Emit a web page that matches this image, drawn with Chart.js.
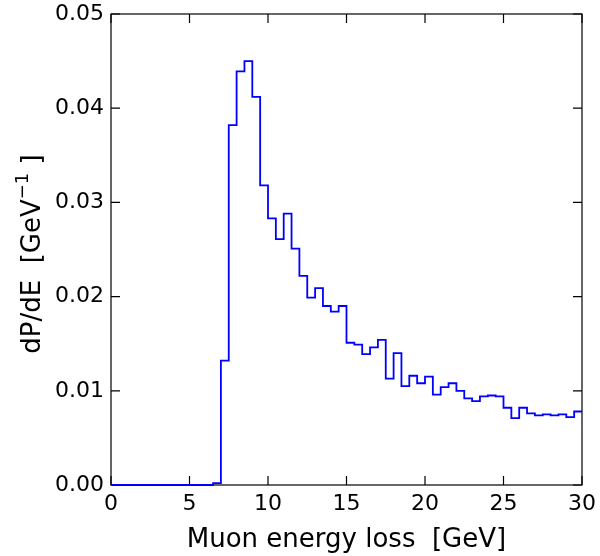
<!DOCTYPE html>
<html><head><meta charset="utf-8">
<script src="https://cdn.jsdelivr.net/npm/chart.js@4/dist/chart.umd.min.js"></script>
<style>html,body{margin:0;padding:0;background:#fff}canvas{display:block}</style>
</head><body>
<canvas id="c" width="600" height="556"></canvas>
<script>
// Lower edges of the histogram bins [GeV]
const binLow = [0,0.5,1,1.5,2,2.5,3,3.5,4,4.5,5,5.5,6,6.5,7,7.5,8,8.5,9,9.5,
  10,10.5,11,11.5,12,12.5,13,13.5,14,14.5,15,15.5,16,16.5,17,17.5,18,18.5,19,19.5,
  20,20.5,21,21.5,22,22.5,23,23.5,24,24.5,25,25.5,26,26.5,27,27.5,28,28.5,29,29.5];
const binUpperEnd = 30;
// dP/dE per bin [GeV^-1]
const density = [0,0,0,0,0,0,0,0,0,0,0,0,0,0.0002,0.0132,0.0382,0.0439,0.0450,0.0412,0.0318,
  0.0283,0.0261,0.0288,0.0251,0.0222,0.0199,0.0209,0.0190,0.0184,0.0190,0.0151,0.0149,0.0139,0.0146,0.0154,0.0113,0.0140,0.0105,0.0116,0.0108,
  0.0115,0.0096,0.0104,0.0108,0.0100,0.0092,0.0089,0.0094,0.0095,0.0094,0.0082,0.0071,0.0082,0.0076,0.0074,0.0075,0.0074,0.0075,0.0072,0.0078];
const xTicks = [0,5,10,15,20,25,30];
const yTicks = [0,0.01,0.02,0.03,0.04,0.05];
const xTitle = 'Muon energy loss  [GeV]';
const yTitleMain = 'dP/dE  [GeV';
const yTitleSup = '\u22121';
const yTitleEnd = ' ]';

const FONT = 'DejaVu Sans';
const points = binLow.map((x, i) => ({x: x, y: density[i]}));
points.push({x: binUpperEnd, y: density[density.length - 1]});

const framePlugin = {
  id: 'frame',
  beforeDatasetsDraw(chart) {
    const {ctx, chartArea: {left, right, top, bottom}, scales: {x, y}} = chart;
    ctx.save();
    ctx.strokeStyle = '#000';
    ctx.lineWidth = 1.2;
    ctx.strokeRect(left, top, right - left, bottom - top);
    const L = 9;
    ctx.beginPath();
    xTicks.forEach(v => {
      const p = x.getPixelForValue(v);
      ctx.moveTo(p, bottom); ctx.lineTo(p, bottom - L);
      ctx.moveTo(p, top); ctx.lineTo(p, top + L);
    });
    yTicks.forEach(v => {
      const p = y.getPixelForValue(v);
      ctx.moveTo(left, p); ctx.lineTo(left + L, p);
      ctx.moveTo(right, p); ctx.lineTo(right - L, p);
    });
    ctx.stroke();
    ctx.restore();
  },
  afterDraw(chart) {
    const {ctx} = chart;
    ctx.save();
    ctx.fillStyle = '#000';
    const big = '26px "' + FONT + '"', small = '18px "' + FONT + '"';
    ctx.font = big; const w1 = ctx.measureText(yTitleMain).width; const w3 = ctx.measureText(yTitleEnd).width;
    ctx.font = small; const w2 = ctx.measureText(yTitleSup).width;
    const total = w1 + w2 + w3;
    ctx.translate(40, 254);
    ctx.rotate(-Math.PI / 2);
    ctx.textBaseline = 'alphabetic';
    ctx.textAlign = 'left';
    let sx = -total / 2;
    ctx.font = big; ctx.fillText(yTitleMain, sx, 0); sx += w1;
    ctx.font = small; ctx.fillText(yTitleSup, sx, -12); sx += w2;
    ctx.font = big; ctx.fillText(yTitleEnd, sx, 0);
    ctx.restore();
  }
};

new Chart(document.getElementById('c'), {
  type: 'line',
  data: {datasets: [{
    data: points, borderColor: '#0000ff', borderWidth: 1.8, stepped: 'before',
    pointRadius: 0, fill: false, clip: false, tension: 0
  }]},
  options: {
    responsive: false, animation: false, devicePixelRatio: 1,
    layout: {padding: {top: 14, right: 18, left: 0, bottom: 0}},
    plugins: {legend: {display: false}, tooltip: {enabled: false}},
    scales: {
      x: {
        type: 'linear', min: 0, max: 30,
        afterBuildTicks: s => { s.ticks = xTicks.map(v => ({value: v})); },
        grid: {display: false, drawTicks: false}, border: {display: false},
        ticks: {padding: 6, color: '#000', font: {family: FONT, size: 22}, maxRotation: 0, autoSkip: false,
          callback: v => String(v)},
        title: {display: true, text: xTitle, color: '#000', font: {family: FONT, size: 26}, padding: {top: 0, bottom: 0}},
        afterFit: s => { s.height = 71; s.paddingLeft = 0; s.paddingRight = 0; }
      },
      y: {
        type: 'linear', min: 0, max: 0.05,
        afterBuildTicks: s => { s.ticks = yTicks.map(v => ({value: v})); },
        grid: {display: false, drawTicks: false}, border: {display: false},
        ticks: {padding: 7, color: '#000', font: {family: FONT, size: 22}, autoSkip: false,
          callback: v => v.toFixed(2)},
        afterFit: s => { s.width = 111; s.paddingTop = 0; s.paddingBottom = 0; }
      }
    }
  },
  plugins: [framePlugin]
});
</script>
</body></html>
